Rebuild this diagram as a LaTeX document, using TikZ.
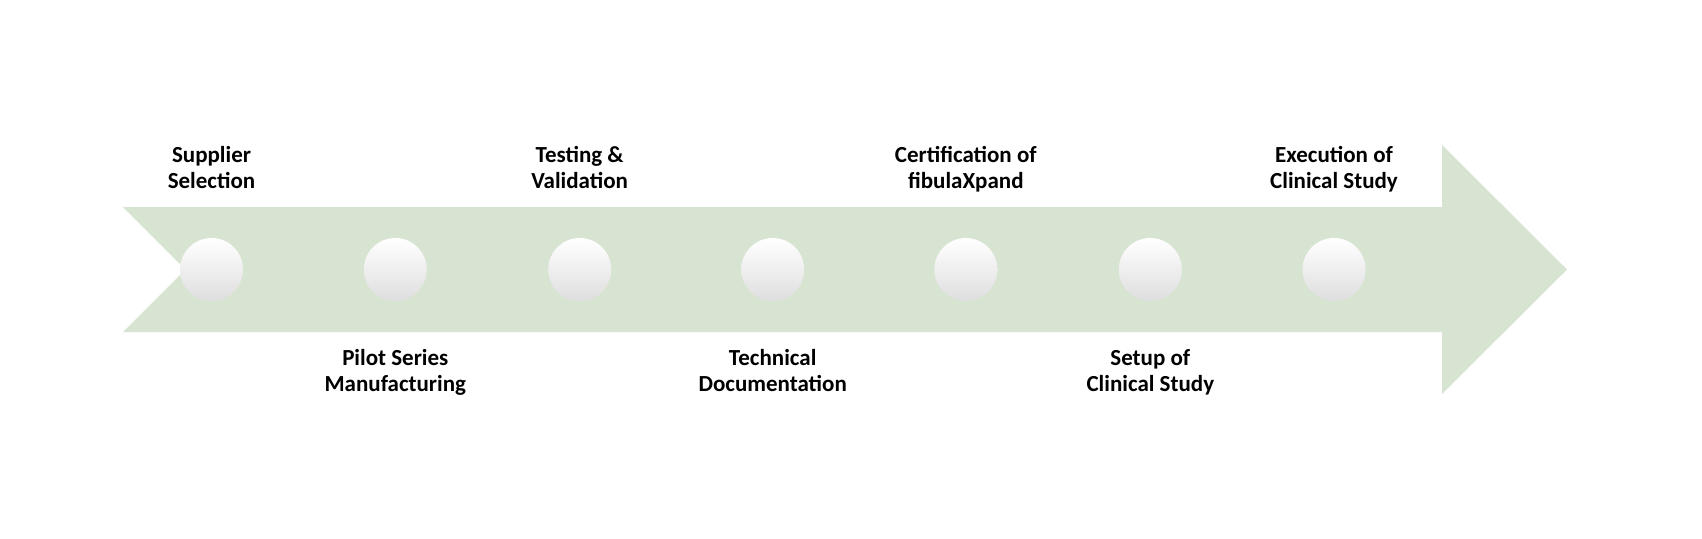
\documentclass[tikz,border=0pt]{standalone}
\usepackage{fontspec}
\setmainfont{Carlito}
\definecolor{arrowgreen}{RGB}{216,228,210}
\definecolor{dotgray}{RGB}{222,222,222}
\definecolor{labeltext}{RGB}{0,0,0}
\begin{document}
\begin{tikzpicture}[x=1pt,y=-1pt,
  dot/.style={circle,minimum size=63pt,inner sep=0pt,draw=none,
    top color=white,middle color=white,bottom color=dotgray},
  lbl/.style={align=center,inner sep=0pt,text=labeltext,
    font=\bfseries\fontsize{23}{26}\selectfont}]
\useasboundingbox (0,0) rectangle (1702,538);
\fill[white] (0,0) rectangle (1702,538);
% arrow
\fill[arrowgreen] (123,207) -- (1442,207) -- (1442,145) -- (1567,269.5)
  -- (1442,394) -- (1442,332) -- (123,332) -- (185.5,269.5) -- cycle;
% dots
\foreach \i/\x in {1/211.5,2/395.3,3/579.7,4/772.7,5/965.8,6/1150.3,7/1334}
  \node[dot] (c\i) at (\x,269.5) {};
% labels
\node[lbl,anchor=south] (l1) at (c1.center |- 0,196) {\strut Supplier\\\strut Selection};
\node[lbl,anchor=north] (l2) at (c2.center |- 0,347.5) {\strut Pilot Series\\\strut Manufacturing};
\node[lbl,anchor=south] (l3) at (c3.center |- 0,196) {\strut Testing \&\\\strut Validation};
\node[lbl,anchor=north] (l4) at (c4.center |- 0,347.5) {\strut Technical\\\strut Documentation};
\node[lbl,anchor=south] (l5) at (c5.center |- 0,196) {\strut Certification of\\\strut fibulaXpand};
\node[lbl,anchor=north] (l6) at (c6.center |- 0,347.5) {\strut Setup of\\\strut Clinical Study};
\node[lbl,anchor=south] (l7) at (c7.center |- 0,196) {\strut Execution of\\\strut Clinical Study};
\end{tikzpicture}
\end{document}
